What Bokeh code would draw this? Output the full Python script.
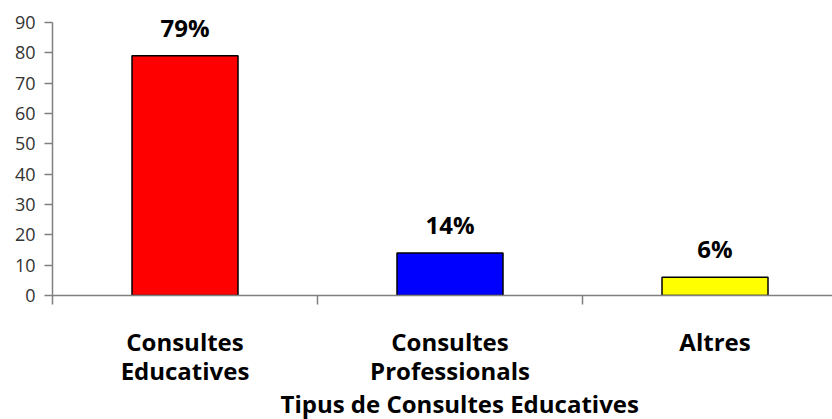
from bokeh.plotting import figure
from bokeh.models import ColumnDataSource, FixedTicker, Range1d, LabelSet, Title
from bokeh.core.properties import value
from bokeh.embed import file_html
from bokeh.resources import INLINE

# Data
categories = ["Consultes\nEducatives", "Consultes\nProfessionals", "Altres"]
values = [79, 14, 6]
pct_labels = ["79%", "14%", "6%"]
colors = ["#FF0000", "#0000FF", "#FFFF00"]
y_ticks = [0, 10, 20, 30, 40, 50, 60, 70, 80, 90]
x_title = "Tipus de Consultes Educatives"

centers = [i + 0.5 for i in range(len(categories))]
boundaries = [i for i in range(len(categories) + 1)]

src = ColumnDataSource(dict(x=centers, top=values, color=colors, label=pct_labels))

PX_PER_UNIT = 273 / 90.0
p = figure(width=832, height=419, output_backend="svg", toolbar_location=None,
           x_range=Range1d(0, 780 / 265), y_range=Range1d(0, 295 / PX_PER_UNIT),
           min_border_left=52, min_border_right=0, min_border_top=0,
           min_border_bottom=124)
p.outline_line_color = None
p.xgrid.visible = False
p.ygrid.visible = False
p.background_fill_color = "white"
p.border_fill_color = "white"

p.vbar(x="x", top="top", width=0.4, bottom=0, source=src, fill_color="color",
       line_color="black", line_width=1.5)

FONT = "Open Sans"
AX = "#808080"
BIG = "24px"

# y axis
p.yaxis.ticker = FixedTicker(ticks=y_ticks, minor_ticks=[])
p.yaxis.bounds = (0, 90)
p.yaxis.axis_line_color = AX
p.yaxis.axis_line_width = 1.5
p.yaxis.major_tick_line_color = AX
p.yaxis.major_tick_line_width = 1.5
p.yaxis.major_tick_out = 8
p.yaxis.major_tick_in = 0
p.yaxis.minor_tick_line_color = None
p.yaxis.major_label_standoff = 9
p.yaxis.major_label_text_font = FONT
p.yaxis.major_label_text_font_size = "18px"
p.yaxis.major_label_text_color = "#333333"

# x axis
p.xaxis.ticker = FixedTicker(ticks=centers, minor_ticks=boundaries)
p.xaxis.major_label_overrides = {c: lab for c, lab in zip(centers, categories)}
p.xaxis.axis_line_color = AX
p.xaxis.axis_line_width = 1.5
p.xaxis.major_tick_line_color = None
p.xaxis.major_tick_out = 0
p.xaxis.major_tick_in = 0
p.xaxis.minor_tick_line_color = AX
p.xaxis.minor_tick_line_width = 1.5
p.xaxis.minor_tick_out = 9
p.xaxis.minor_tick_in = 0
p.xaxis.major_label_standoff = 20
p.xaxis.major_label_text_font = FONT
p.xaxis.major_label_text_font_style = "bold"
p.xaxis.major_label_text_font_size = BIG
p.xaxis.major_label_text_color = "black"
p.xaxis.major_label_text_line_height = 0.9

labels = LabelSet(x="x", y="top", text="label", source=src, y_offset=19,
                  text_align="center", text_baseline="alphabetic",
                  text_font=value(FONT), text_font_style="bold",
                  text_font_size=value(BIG), text_color="black")
p.add_layout(labels)

title = Title(text=x_title, align="left", offset=228, standoff=-7,
              vertical_align="top",
              text_font=FONT, text_font_style="bold", text_font_size=BIG,
              text_color="black")
p.add_layout(title, "below")

open("out.html", "w").write(file_html(p, INLINE))
